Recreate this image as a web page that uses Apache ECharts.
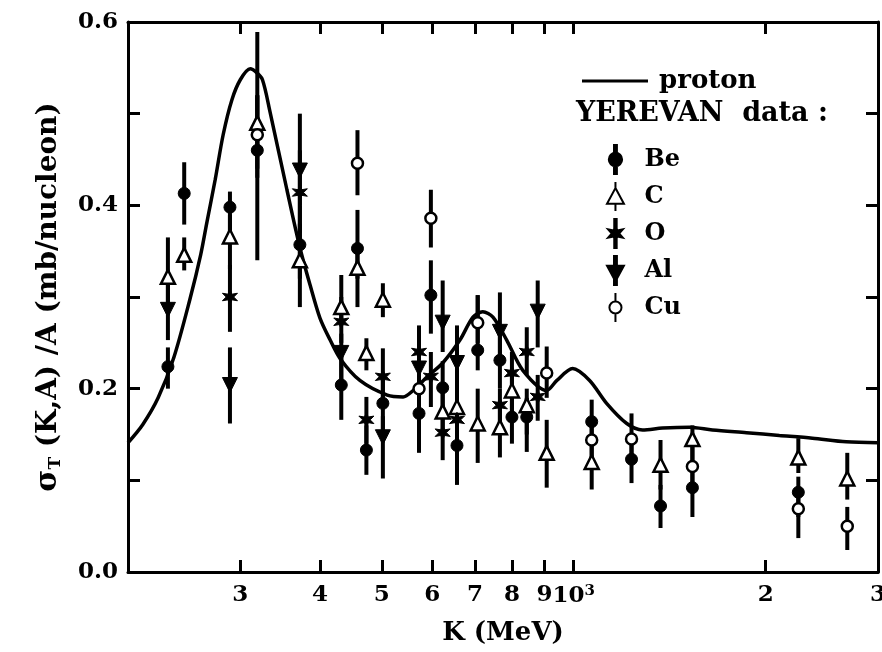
<!DOCTYPE html>
<html>
<head>
<meta charset="utf-8">
<title>sigma_T(K,A)/A vs K</title>
<script src="https://cdn.jsdelivr.net/npm/echarts@6/dist/echarts.min.js"></script>
<style>
  html, body { margin: 0; padding: 0; background: #fff; }
  #chart { width: 882px; height: 652px; }
</style>
</head>
<body>
<div id="chart"></div>
<script type="text/javascript">

// proton curve  (K in MeV, sigma in mb/nucleon)
var protonK = [200, 211, 223, 236, 250, 260, 266, 274, 282, 291, 300, 311, 318, 325, 334, 355, 372, 386, 400, 415,
    430, 462, 510, 540, 560, 589, 623, 663, 695, 720, 747, 785, 832, 907, 941, 996, 1059, 1126, 1211,
    1282, 1378, 1519, 1650, 1866, 2101, 2367, 2675, 3000];
var protonSigma = [0.141, 0.161, 0.190, 0.234, 0.297, 0.346, 0.382, 0.428, 0.477, 0.515, 0.537, 0.549, 0.545, 0.537, 0.502, 0.417, 0.354, 0.313, 0.277, 0.253,
    0.233, 0.209, 0.193, 0.191, 0.198, 0.213, 0.228, 0.253, 0.278, 0.284, 0.278, 0.253, 0.220, 0.198, 0.209, 0.222, 0.209, 0.184, 0.162,
    0.155, 0.157, 0.158, 0.155, 0.152, 0.149, 0.146, 0.142, 0.141];

// YEREVAN data: [K, sigma, low end of bar, high end of bar]
var be = [[231, 0.224, 0.200, 0.245], [245, 0.413, 0.379, 0.447], [289, 0.398, 0.370, 0.415], [319, 0.460, 0.340, 0.520],
    [372, 0.357, 0.320, 0.400], [432, 0.204, 0.166, 0.240], [458, 0.353, 0.320, 0.395], [473, 0.133, 0.106, 0.160],
    [502, 0.184, 0.150, 0.215], [572, 0.173, 0.130, 0.210], [597, 0.302, 0.260, 0.340], [623, 0.201, 0.170, 0.230],
    [656, 0.138, 0.095, 0.165], [707, 0.242, 0.220, 0.302], [766, 0.231, 0.200, 0.260], [800, 0.169, 0.140, 0.190],
    [844, 0.169, 0.131, 0.190], [1067, 0.164, 0.140, 0.188], [1232, 0.123, 0.097, 0.140], [1368, 0.072, 0.048, 0.095],
    [1535, 0.092, 0.060, 0.110], [2250, 0.087, 0.060, 0.104]];
var carbon = [[231, 0.322, 0.290, 0.365], [245, 0.346, 0.329, 0.365], [289, 0.366, 0.330, 0.390], [319, 0.490, 0.430, 0.589],
    [372, 0.340, 0.289, 0.380], [432, 0.289, 0.270, 0.324], [458, 0.332, 0.289, 0.350], [473, 0.239, 0.220, 0.255],
    [502, 0.297, 0.278, 0.315], [623, 0.175, 0.150, 0.200], [656, 0.180, 0.150, 0.210], [707, 0.162, 0.119, 0.200],
    [766, 0.158, 0.125, 0.180], [800, 0.198, 0.170, 0.220], [844, 0.182, 0.150, 0.200], [907, 0.130, 0.092, 0.166],
    [1067, 0.120, 0.090, 0.140], [1368, 0.117, 0.090, 0.144], [1535, 0.145, 0.110, 0.160], [2250, 0.125, 0.108, 0.146],
    [2685, 0.102, 0.079, 0.130]];
var oxygen = [[289, 0.300, 0.262, 0.335], [372, 0.414, 0.370, 0.460], [432, 0.273, 0.250, 0.300], [473, 0.166, 0.140, 0.191],
    [502, 0.213, 0.190, 0.244], [572, 0.240, 0.200, 0.269], [597, 0.213, 0.180, 0.240], [623, 0.152, 0.122, 0.175],
    [656, 0.166, 0.140, 0.190], [766, 0.182, 0.160, 0.200], [800, 0.217, 0.190, 0.240], [844, 0.240, 0.215, 0.267],
    [878, 0.191, 0.165, 0.215]];
var aluminium = [[231, 0.286, 0.253, 0.320], [289, 0.204, 0.162, 0.245], [372, 0.438, 0.400, 0.500], [432, 0.239, 0.200, 0.260],
    [502, 0.147, 0.102, 0.170], [572, 0.222, 0.200, 0.250], [623, 0.272, 0.240, 0.318], [656, 0.228, 0.200, 0.269],
    [766, 0.262, 0.230, 0.305], [878, 0.284, 0.245, 0.318]];
var copper = [[319, 0.477, 0.440, 0.520], [458, 0.446, 0.411, 0.482], [572, 0.200, 0.180, 0.220], [597, 0.386, 0.354, 0.417],
    [707, 0.272, 0.250, 0.302], [907, 0.217, 0.190, 0.246], [1067, 0.144, 0.120, 0.160], [1232, 0.145, 0.125, 0.173],
    [1535, 0.115, 0.090, 0.140], [2250, 0.069, 0.037, 0.090], [2685, 0.050, 0.024, 0.071]];

// axis ticks
var kTicks = [300, 400, 500, 600, 700, 800, 900, 1000, 2000, 3000];

var FONT = 'DejaVu Serif';

// marker shapes
var STAR = 'path://M0,-6L1.3,-2.25L5.2,-3L2.6,0L5.2,3L1.3,2.25L0,6L-1.3,2.25L-5.2,3L-2.6,0L-5.2,-3L-1.3,-2.25Z';
var DOWN = 'path://M-6,-5L6,-5L0,6Z';

// legend icons (marker with its bar), all in a 14 x 24 box
var ICON_BE = 'path://M-1.2,-12L1.2,-12L1.2,12L-1.2,12Z M0,-5.5A5.5,5.5 0 1 1 0,5.5A5.5,5.5 0 1 1 0,-5.5Z M-7,0L-7,0 M7,0L7,0';
var ICON_C = 'path://M0,-7L7,6L-7,6Z M0,-12L0,-7 M0,6L0,12';
var ICON_O = 'path://M-1,-12L1,-12L1,12L-1,12Z M0,-7L1.5,-2.6L6.1,-3.5L3,0L6.1,3.5L1.5,2.6L0,7L-1.5,2.6L-6.1,3.5L-3,0L-6.1,-3.5L-1.5,-2.6Z M-7,0L-7,0 M7,0L7,0';
var ICON_AL = 'path://M-1.2,-12L1.2,-12L1.2,12L-1.2,12Z M-7,-4L7,-4L0,9Z';
var ICON_CU = 'path://M0,-5A5,5 0 1 1 0,5A5,5 0 1 1 0,-5Z M0,-12L0,-5 M0,5L0,12 M-7,0L-7,0 M7,0L7,0';

function kLabel(v) {
    var r = Math.round(v);
    if (r === 1000) return '10{sup|3}';
    if (r > 1000) return String(Math.round(r / 1000));
    return String(Math.round(r / 100));
}

function errBars(name, pts) {
    return {
        type: 'custom',
        name: name + ' bars',
        data: pts.map(function (p) { return [p[0], p[2], p[3]]; }),
        encode: { x: 0, y: [1, 2] },
        silent: true,
        z: 3,
        renderItem: function (params, api) {
            var a = api.coord([api.value(0), api.value(1)]);
            var b = api.coord([api.value(0), api.value(2)]);
            return {
                type: 'line',
                shape: { x1: a[0], y1: a[1], x2: b[0], y2: b[1] },
                style: { stroke: '#000', lineWidth: 4 }
            };
        }
    };
}

function points(name, pts, symbol, size, open) {
    return {
        type: 'scatter',
        name: name,
        data: pts.map(function (p) { return [p[0], p[1]]; }),
        symbol: symbol,
        symbolSize: size,
        z: 4,
        itemStyle: open
            ? { color: '#fff', borderColor: '#000', borderWidth: 2.5, opacity: 1 }
            : { color: '#000', borderColor: '#000', borderWidth: 1, opacity: 1 }
    };
}

var chart = echarts.init(document.getElementById('chart'));

var tickStyle = { show: true, inside: true, length: 12, lineStyle: { color: '#000', width: 3 } };

chart.setOption({
    backgroundColor: '#fff',
    animation: false,
    grid: { left: 128, right: 4, top: 22, bottom: 80, outerBoundsMode: 'none' },
    xAxis: [
        {
            type: 'log', min: 200, max: 3000, position: 'bottom',
            name: 'K (MeV)', nameLocation: 'middle', nameGap: 48,
            nameTextStyle: { fontFamily: FONT, fontWeight: 'bold', fontSize: 26, color: '#000' },
            axisLine: { onZero: false, lineStyle: { color: '#000', width: 3 } },
            axisTick: { show: true, inside: true, length: 12, customValues: kTicks, lineStyle: { color: '#000', width: 3 } },
            minorTick: { show: false },
            axisLabel: {
                customValues: kTicks, formatter: kLabel, margin: 12,
                fontFamily: FONT, fontWeight: 'bold', fontSize: 23, color: '#000',
                rich: { sup: { fontFamily: FONT, fontWeight: 'bold', fontSize: 15, verticalAlign: 'top', padding: [0, 0, 10, 0] } }
            },
            splitLine: { show: false }
        },
        {
            type: 'log', min: 200, max: 3000, position: 'top',
            axisLine: { onZero: false, lineStyle: { color: '#000', width: 3 } },
            axisTick: { show: true, inside: true, length: 12, customValues: kTicks, lineStyle: { color: '#000', width: 3 } },
            axisLabel: { show: false },
            splitLine: { show: false }
        }
    ],
    yAxis: [
        {
            type: 'value', min: 0, max: 0.6, interval: 0.1, position: 'left',
            name: '{s|σ}{sub|T} (K,A) /A (mb/nucleon)', nameLocation: 'middle', nameGap: 64,
            nameTextStyle: {
                fontFamily: FONT, fontWeight: 'bold', fontSize: 28, color: '#000',
                rich: {
                    s: { fontFamily: FONT, fontWeight: 'bold', fontSize: 30, color: '#000' },
                    sub: { fontFamily: FONT, fontWeight: 'bold', fontSize: 17, color: '#000', verticalAlign: 'bottom', padding: [14, 0, 0, 0] }
                }
            },
            axisLine: { lineStyle: { color: '#000', width: 3 } },
            axisTick: tickStyle,
            axisLabel: {
                margin: 10, fontFamily: FONT, fontWeight: 'bold', fontSize: 23, color: '#000',
                formatter: function (v) { return Math.round(v * 10) % 2 === 0 ? v.toFixed(1) : ''; }
            },
            splitLine: { show: false }
        },
        {
            type: 'value', min: 0, max: 0.6, interval: 0.1, position: 'right',
            axisLine: { show: true, lineStyle: { color: '#000', width: 3 } },
            axisTick: tickStyle,
            axisLabel: { show: false },
            splitLine: { show: false }
        }
    ],
    legend: [
        {
            data: [{ name: 'proton', icon: 'rect' }],
            left: 577, top: 63,
            itemWidth: 66, itemHeight: 3,
            textStyle: { fontFamily: FONT, fontWeight: 'bold', fontSize: 26, color: '#000', padding: [0, 0, 0, 6] }
        },
        {
            data: [
                { name: 'Be', icon: ICON_BE },
                { name: 'C', icon: ICON_C },
                { name: 'O', icon: ICON_O },
                { name: 'Al', icon: ICON_AL },
                { name: 'Cu', icon: ICON_CU }
            ],
            orient: 'vertical',
            left: 601, top: 139,
            itemWidth: 24, itemHeight: 29, itemGap: 6,
            symbolRotate: 0,
            textStyle: { fontFamily: FONT, fontWeight: 'bold', fontSize: 24, lineHeight: 29, color: '#000', padding: [0, 0, 0, 12] }
        }
    ],
    graphic: [
        {
            type: 'text', left: 576, top: 100,
            style: { text: 'YEREVAN  data :', fontFamily: FONT, fontWeight: 'bold', fontSize: 27, fill: '#000' }
        }
    ],
    series: [
        {
            type: 'line', name: 'proton',
            data: protonK.map(function (k, i) { return [k, protonSigma[i]]; }),
            smooth: 0.3, showSymbol: false, z: 2,
            lineStyle: { color: '#000', width: 3.5 },
            itemStyle: { color: '#000' }
        },
        errBars('Be', be),
        errBars('C', carbon),
        errBars('O', oxygen),
        errBars('Al', aluminium),
        errBars('Cu', copper),
        points('Be', be, 'circle', 12, false),
        points('C', carbon, 'triangle', 14, true),
        points('O', oxygen, STAR, 15, false),
        points('Al', aluminium, DOWN, 15, false),
        points('Cu', copper, 'circle', 11, true)
    ]
});

</script>
</body>
</html>
